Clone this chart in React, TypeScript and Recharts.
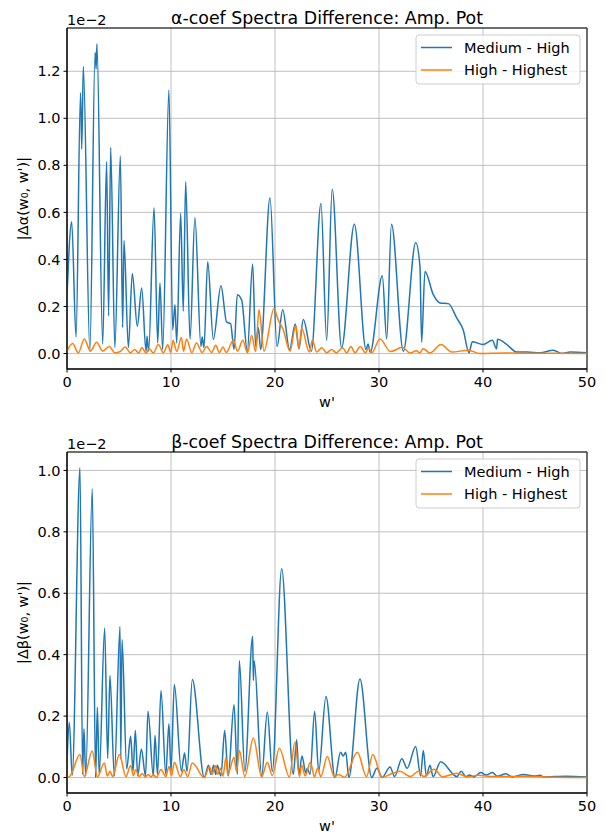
import React from 'react';
import { LineChart, Line, XAxis, YAxis, CartesianGrid, ReferenceArea } from 'recharts';

const FONT = '"DejaVu Sans", Verdana, sans-serif';
const BLUE = '#1f77b4';
const ORANGE = '#ff7f0e';

const seriesNames = ['Medium - High', 'High - Highest'];
const xTicks = [0, 10, 20, 30, 40, 50];
const alphaTicks = [0, 0.2, 0.4, 0.6, 0.8, 1.0, 1.2];
const betaTicks = [0, 0.2, 0.4, 0.6, 0.8, 1.0];

// [w', |Δ|] in units of 1e-2 (peaks and troughs)
const alphaMediumHigh: [number, number][] = [
  [0, 0.24], [0.45, 0.56], [0.87, 0.07], [1.3, 1.11], [1.42, 0.87], [1.57, 1.22], [2.2, 0.01],
  [2.7, 1.28], [2.8, 1.21], [2.88, 1.317], [3.43, 0.04], [3.81, 0.815], [4.0, 0.16], [4.2, 0.876],
  [4.6, 0.025], [5.13, 0.84], [5.35, 0.11], [5.48, 0.48], [5.9, 0.025], [6.28, 0.34], [6.76, 0.116],
  [7.18, 0.278], [7.6, 0.01], [7.7, 0.073], [7.85, 0.01], [8.37, 0.62], [8.72, 0.045], [8.94, 0.3],
  [9.2, 0.017], [9.8, 1.12], [10.16, 0.1], [10.38, 0.207], [10.55, 0.045], [10.93, 0.596],
  [11.18, 0.18], [11.41, 0.73], [11.83, 0.06], [12.3, 0.578], [12.88, 0.03], [13.0, 0.07],
  [13.17, 0.025], [13.53, 0.39], [14.07, 0.06], [14.8, 0.288], [15.35, 0.133], [15.73, 0.127],
  [16.06, 0.017], [16.38, 0.25], [16.8, 0.226], [17.34, 0.01], [17.85, 0.38], [18.14, 0.03],
  [18.4, 0.109], [18.62, 0.017], [19.52, 0.662], [20.2, 0.03], [20.74, 0.186], [21.4, 0.017],
  [21.95, 0.125], [22.3, 0.02], [22.72, 0.144], [23.5, 0.01], [24.42, 0.638], [24.97, 0.056],
  [25.5, 0.698], [26.4, 0.024], [27.63, 0.55], [28.75, 0.017], [28.95, 0.04], [29.15, 0.005],
  [30.32, 0.33], [30.74, 0.062], [31.2, 0.55], [32.34, 0.01], [33.53, 0.472], [33.94, 0.37],
  [34.1, 0.048], [34.42, 0.349], [35.22, 0.25], [35.87, 0.215], [36.67, 0.212], [37.47, 0.151],
  [38.1, 0.1], [38.65, 0.003], [38.97, 0.05], [40.0, 0.038], [40.9, 0.056], [41.3, 0.02],
  [41.4, 0.06], [42.3, 0.038], [43.24, 0.006], [44.2, 0.006], [45.5, 0.003], [46.76, 0.014],
  [47.6, 0.0], [48.4, 0.006], [50, 0.003],
];

const alphaHighHighest: [number, number][] = [
  [0, 0.01], [0.54, 0.042], [1.09, 0.003], [1.67, 0.062], [2.25, 0.01], [2.85, 0.048], [3.43, 0.01],
  [4.07, 0.03], [4.6, 0.003], [5.1, 0.008], [5.6, 0.028], [6.1, 0.003], [6.5, 0.017], [6.9, 0.002],
  [7.2, 0.025], [7.6, 0.002], [7.9, 0.02], [8.3, 0.002], [8.78, 0.038], [9.27, 0.003], [9.7, 0.037],
  [9.97, 0.005], [10.2, 0.056], [10.55, 0.008], [11.0, 0.068], [11.2, 0.01], [11.5, 0.062],
  [12.0, 0.003], [12.45, 0.045], [13.0, 0.004], [13.43, 0.03], [13.9, 0.004], [14.3, 0.035],
  [14.65, 0.004], [15.0, 0.028], [15.3, 0.004], [16.0, 0.056], [16.4, 0.01], [16.9, 0.056],
  [17.35, 0.003], [17.76, 0.076], [18.14, 0.008], [18.46, 0.186], [18.94, 0.01], [19.9, 0.19],
  [20.3, 0.144], [20.8, 0.1], [21.44, 0.01], [22.0, 0.119], [22.3, 0.02], [22.56, 0.108],
  [23.3, 0.006], [23.6, 0.056], [24.0, 0.006], [24.5, 0.024], [24.97, 0.003], [25.45, 0.017],
  [25.9, 0.003], [26.5, 0.024], [26.9, 0.003], [27.3, 0.03], [27.7, 0.003], [28.2, 0.03],
  [28.7, 0.003], [29.0, 0.024], [29.3, 0.003], [30.1, 0.062], [31.1, 0.008], [32.25, 0.026],
  [33.0, 0.002], [33.6, 0.012], [33.9, 0.003], [34.25, 0.02], [34.9, 0.002], [35.96, 0.038],
  [37.0, 0.006], [38.6, 0.014], [39.7, 0.0], [42, 0.002], [45, 0.001], [50, 0.0],
];

const betaMediumHigh: [number, number][] = [
  [0, 0.045], [0.22, 0.18], [0.5, 0.007], [1.25, 1.009], [1.5, 0.01], [1.63, 0.159], [1.8, 0.005],
  [2.43, 0.94], [2.75, 0.0], [2.92, 0.229], [3.1, 0.01], [3.62, 0.486], [3.91, 0.062], [4.13, 0.332],
  [4.55, 0.005], [5.1, 0.492], [5.17, 0.06], [5.29, 0.449], [5.74, 0.028], [6.12, 0.134],
  [6.35, 0.02], [6.57, 0.153], [6.8, 0.005], [7.15, 0.093], [7.55, 0.005], [7.79, 0.216],
  [8.3, 0.005], [8.46, 0.137], [8.7, 0.01], [9.04, 0.283], [9.5, 0.01], [9.8, 0.175], [10.0, 0.02],
  [10.32, 0.303], [11.0, 0.02], [11.3, 0.08], [11.55, 0.02], [12.05, 0.319], [13.2, 0.0],
  [13.6, 0.04], [13.85, 0.01], [14.1, 0.04], [14.3, 0.01], [14.45, 0.04], [14.8, 0.005],
  [15.16, 0.153], [15.5, 0.005], [16.06, 0.237], [16.38, 0.01], [16.57, 0.381], [17.1, 0.02],
  [17.85, 0.459], [17.92, 0.316], [18.0, 0.38], [18.72, 0.005], [19.26, 0.213], [19.74, 0.02],
  [20.64, 0.68], [21.76, 0.01], [22.08, 0.123], [22.3, 0.01], [22.6, 0.07], [22.95, 0.015],
  [23.1, 0.03], [23.37, 0.01], [23.81, 0.216], [24.2, 0.02], [24.9, 0.264], [25.77, 0.0],
  [26.3, 0.082], [26.55, 0.07], [26.8, 0.082], [27.1, 0.0], [28.17, 0.321], [29.3, 0.0],
  [29.8, 0.03], [30.3, 0.0], [31.06, 0.034], [31.5, 0.003], [32.2, 0.061], [32.7, 0.03],
  [33.53, 0.101], [34.0, 0.005], [34.26, 0.088], [34.55, 0.005], [34.9, 0.04], [35.2, 0.003],
  [35.93, 0.051], [37.5, 0.003], [37.9, 0.02], [38.35, 0.003], [38.7, 0.008], [39.1, 0.002],
  [39.8, 0.016], [40.3, 0.008], [40.9, 0.016], [41.4, 0.004], [42.2, 0.012], [42.8, 0.002],
  [43.9, 0.01], [44.9, 0.005], [45.5, 0.007], [45.8, 0.002], [48, 0.004], [50, 0.002],
];

const betaHighHighest: [number, number][] = [
  [0, 0.0], [0.3, 0.005], [1.25, 0.075], [1.65, 0.003], [2.43, 0.086], [2.92, 0.002], [3.59, 0.047],
  [3.88, 0.005], [4.13, 0.02], [4.4, 0.003], [5.03, 0.075], [5.67, 0.003], [6.12, 0.039],
  [6.38, 0.006], [6.6, 0.026], [6.95, 0.003], [7.2, 0.013], [7.55, 0.002], [7.8, 0.01], [8.1, 0.002],
  [8.3, 0.01], [8.6, 0.0], [9.04, 0.026], [9.5, 0.003], [9.8, 0.036], [10.05, 0.006], [10.32, 0.05],
  [10.9, 0.003], [11.25, 0.026], [11.6, 0.003], [12.05, 0.047], [13.2, 0.0], [13.7, 0.036],
  [13.95, 0.01], [14.26, 0.038], [14.5, 0.01], [14.75, 0.03], [15.0, 0.005], [15.29, 0.066],
  [15.45, 0.008], [16.06, 0.066], [16.3, 0.02], [16.57, 0.088], [17.1, 0.003], [17.92, 0.129],
  [18.72, 0.002], [19.26, 0.05], [19.74, 0.006], [20.42, 0.095], [21.38, 0.002], [21.92, 0.115],
  [22.35, 0.003], [22.56, 0.04], [22.9, 0.005], [23.4, 0.05], [23.8, 0.002], [24.1, 0.03],
  [24.4, 0.003], [25.03, 0.068], [25.7, 0.002], [26.1, 0.01], [26.7, 0.001], [27.92, 0.082],
  [28.8, 0.003], [29.4, 0.075], [30.3, 0.0], [31.2, 0.012], [32.0, 0.02], [33.0, 0.003],
  [33.8, 0.02], [34.3, 0.003], [35.3, 0.027], [36.1, 0.002], [37.47, 0.014], [38.5, 0.002],
  [39.5, 0.007], [41, 0.003], [44, 0.004], [47, 0.001], [50, 0.0],
];

const toRows = (pts: [number, number][]) => pts.map(([w, v]) => ({ w, v }));

const tickStyle = { fill: '#000', fontSize: 14.5, fontFamily: FONT };

type PanelProps = {
  top: number;
  plotTop: number;
  xAxisHeight: number;
  title: string;
  yLabel: string;
  ticks: number[];
  domain: [number, number];
  medHigh: [number, number][];
  highHighest: [number, number][];
};

function Panel({ top, plotTop, xAxisHeight, title, yLabel, ticks, domain, medHigh, highHighest }: PanelProps) {
  const W = 606;
  const H = 417;
  const plotH = H - plotTop - xAxisHeight;
  const plotBottom = plotTop + plotH;
  return (
    <div style={{ position: 'absolute', left: 0, top, width: W, height: H }}>
      <LineChart width={W} height={H} margin={{ top: plotTop, right: 19, bottom: 0, left: 0 }}>
        <CartesianGrid stroke="#b0b0b0" strokeWidth={0.8} />
        <XAxis
          type="number"
          dataKey="w"
          domain={[0, 50]}
          ticks={xTicks}
          allowDataOverflow
          height={xAxisHeight}
          tick={tickStyle}
          tickSize={3.5}
          tickMargin={4}
          stroke="#000"
        />
        <YAxis
          type="number"
          domain={domain}
          ticks={ticks}
          allowDataOverflow
          width={67}
          tick={tickStyle}
          tickSize={3.5}
          tickMargin={3}
          tickFormatter={(v: number) => v.toFixed(1)}
          stroke="#000"
        />
        <ReferenceArea x1={0} x2={50} y1={domain[0]} y2={domain[1]} fill="none" stroke="#000" strokeWidth={1} />
        <Line
          data={toRows(medHigh)}
          dataKey="v"
          type="monotone"
          stroke={BLUE}
          strokeWidth={1.5}
          dot={false}
          isAnimationActive={false}
        />
        <Line
          data={toRows(highHighest)}
          dataKey="v"
          type="monotone"
          stroke={ORANGE}
          strokeWidth={1.5}
          dot={false}
          isAnimationActive={false}
        />
      </LineChart>
      <svg
        width={W}
        height={H}
        style={{ position: 'absolute', left: 0, top: 0, pointerEvents: 'none', fontFamily: FONT }}
      >
        <text x={327} y={plotTop - 4} textAnchor="middle" fontSize={17.4} fill="#000">
          {title}
        </text>
        <text x={67} y={plotTop - 3} fontSize={14.5} fill="#000">
          1e−2
        </text>
        <text
          x={0}
          y={0}
          transform={`translate(27.5, ${plotTop + plotH / 2}) rotate(-90)`}
          textAnchor="middle"
          fontSize={14.5}
          fill="#000"
        >
          {yLabel}
        </text>
        <text x={327} y={plotBottom + 38} textAnchor="middle" fontSize={14.5} fill="#000">
          w'
        </text>
        <g>
          <rect x={416} y={plotTop + 7} width={164} height={49} rx={3} fill="#fff" fillOpacity={0.8} stroke="#cccccc" />
          <line x1={421} x2={452} y1={plotTop + 19.5} y2={plotTop + 19.5} stroke={BLUE} strokeWidth={1.5} />
          <text x={464} y={plotTop + 24.8} fontSize={14.5} fill="#000">
            {seriesNames[0]}
          </text>
          <line x1={421} x2={452} y1={plotTop + 42} y2={plotTop + 42} stroke={ORANGE} strokeWidth={1.5} />
          <text x={464} y={plotTop + 47.3} fontSize={14.5} fill="#000">
            {seriesNames[1]}
          </text>
        </g>
      </svg>
    </div>
  );
}

export default function App() {
  return (
    <div style={{ position: 'absolute', left: 0, top: 0, width: 606, height: 834, background: '#fff' }}>
      <Panel
        top={0}
        plotTop={28}
        xAxisHeight={48}
        title="α-coef Spectra Difference: Amp. Pot"
        yLabel="|Δα(w₀, w')|"
        ticks={alphaTicks}
        domain={[-0.066, 1.384]}
        medHigh={alphaMediumHigh}
        highHighest={alphaHighHighest}
      />
      <Panel
        top={417}
        plotTop={35}
        xAxisHeight={41}
        title="β-coef Spectra Difference: Amp. Pot"
        yLabel="|Δβ(w₀, w')|"
        ticks={betaTicks}
        domain={[-0.0505, 1.06]}
        medHigh={betaMediumHigh}
        highHighest={betaHighHighest}
      />
    </div>
  );
}
